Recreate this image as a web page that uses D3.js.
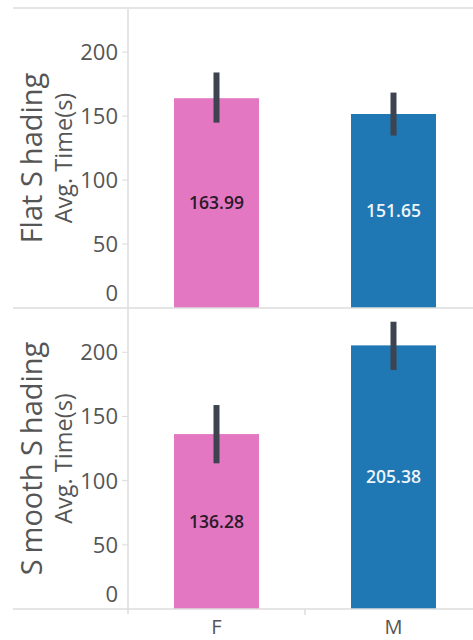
<!DOCTYPE html>
<html><head><meta charset="utf-8">
<script src="https://cdn.jsdelivr.net/npm/d3@7"></script>
<style>body{margin:0;background:#fff}svg{display:block}text{font-family:"Open Sans",sans-serif}</style>
</head><body>
<script>
const categories = ["F", "M"];
const rows = ["Flat Shading", "Smooth Shading"];
const flatValues = [163.99, 151.65];
const smoothValues = [136.28, 205.38];
const flatErrLow = [144.9, 134.8];
const flatErrHigh = [184.1, 168.4];
const smoothErrLow = [113.5, 186.2];
const smoothErrHigh = [158.9, 223.8];
const yTicks = [0, 50, 100, 150, 200];
const colors = ["#e377c2", "#1f77b4"];

const W = 473, H = 640;
const svg = d3.select("body").append("svg").attr("width", W).attr("height", H);
const axisX = 128;
const panes = [
  {name: rows[0], top: 8, bottom: 308, values: flatValues, lo: flatErrLow, hi: flatErrHigh},
  {name: rows[1], top: 308, bottom: 609, values: smoothValues, lo: smoothErrLow, hi: smoothErrHigh}
];
const x = d3.scaleBand().domain(categories).range([axisX, axisX + 354]).paddingInner(0.52).paddingOuter(0.26);
const lineCol = "#dcdcdc";

panes.forEach((p, pi) => {
  const y = d3.scaleLinear().domain([0, 234.5]).range([p.bottom, p.top]);
  const g = svg.append("g");
  g.selectAll("rect").data(categories).join("rect")
    .attr("x", d => x(d)).attr("width", x.bandwidth())
    .attr("y", (d, i) => y(p.values[i])).attr("height", (d, i) => y(0) - y(p.values[i]))
    .attr("fill", (d, i) => colors[i]);
  g.selectAll("line.err").data(categories).join("line").attr("class", "err")
    .attr("x1", d => x(d) + x.bandwidth() / 2).attr("x2", d => x(d) + x.bandwidth() / 2)
    .attr("y1", (d, i) => y(p.hi[i])).attr("y2", (d, i) => y(p.lo[i]))
    .attr("stroke", "#3d434f").attr("stroke-width", 6);
  g.selectAll("text.val").data(categories).join("text").attr("class", "val")
    .attr("x", d => x(d) + x.bandwidth() / 2)
    .attr("y", (d, i) => (y(p.values[i]) + y(0)) / 2)
    .attr("dy", "0.36em").attr("text-anchor", "middle")
    .attr("font-size", 17.5).attr("font-weight", 600)
    .attr("fill", (d, i) => i === 0 ? "#2a1a2a" : "#eef4f9")
    .text((d, i) => p.values[i].toFixed(2));
  const ax = g.append("g");
  yTicks.forEach(t => {
    const ty = y(t);
    if (t > 0) ax.append("line").attr("x1", axisX - 6).attr("x2", axisX).attr("y1", ty).attr("y2", ty).attr("stroke", lineCol).attr("stroke-width", 1);
    ax.append("text").attr("x", axisX - 10).attr("y", t === 0 ? ty - 15 : ty).attr("dy", "0.36em")
      .attr("text-anchor", "end").attr("font-size", 22).attr("fill", "#555").text(t);
  });
  const cy = (p.top + p.bottom) / 2;
  const t1 = g.append("text").attr("transform", `translate(42,${cy}) rotate(-90)`)
    .attr("text-anchor", "middle").attr("font-size", 29).attr("fill", "#555");
  if (pi === 0) {
    t1.append("tspan").text("Flat S");
    t1.append("tspan").attr("dx", 6).text("hading");
  } else {
    t1.append("tspan").text("S");
    t1.append("tspan").attr("dx", 6).text("mooth S");
    t1.append("tspan").attr("dx", 6).text("hading");
  }
  g.append("text").attr("transform", `translate(72,${cy}) rotate(-90)`)
    .attr("text-anchor", "middle").attr("font-size", 23.5).attr("fill", "#555").text("Avg. Time(s)");
});

[8, 308, 609].forEach(yy => svg.append("line").attr("x1", 13).attr("x2", W).attr("y1", yy).attr("y2", yy).attr("stroke", lineCol).attr("stroke-width", 1.5));
svg.append("line").attr("x1", axisX).attr("x2", axisX).attr("y1", 9).attr("y2", 614).attr("stroke", lineCol).attr("stroke-width", 1.5);
svg.append("line").attr("x1", 305).attr("x2", 305).attr("y1", 609).attr("y2", 615).attr("stroke", lineCol).attr("stroke-width", 1.5);

svg.selectAll("text.cat").data(categories).join("text").attr("class", "cat")
  .attr("x", d => x(d) + x.bandwidth() / 2).attr("y", 634)
  .attr("text-anchor", "middle").attr("font-size", 20).attr("fill", "#555").text(d => d);
</script>
</body></html>
